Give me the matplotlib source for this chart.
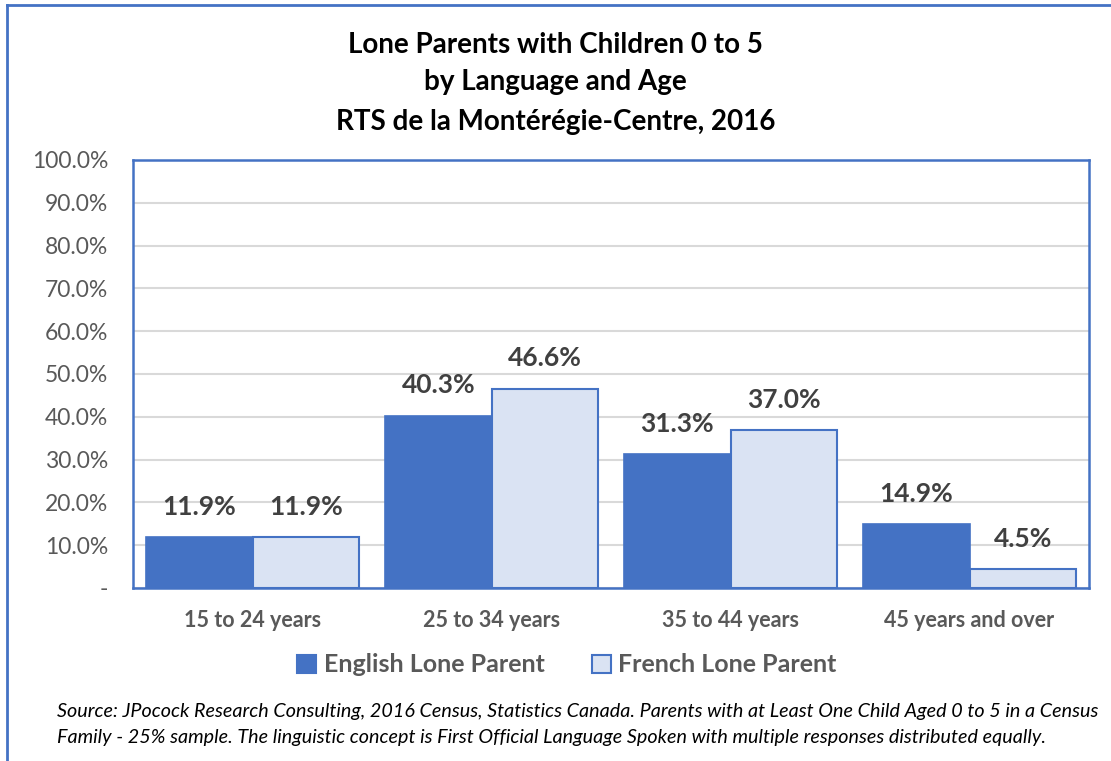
import matplotlib
matplotlib.use("Agg")
import matplotlib.pyplot as plt
from matplotlib.lines import Line2D
from matplotlib.patches import Patch
import numpy as np

categories = ["15 to 24 years", "25 to 34 years", "35 to 44 years", "45 years and over"]
english = [11.9, 40.3, 31.3, 14.9]
french = [11.9, 46.6, 37.0, 4.5]
series_names = ["English Lone Parent", "French Lone Parent"]
yticks = [0, 10, 20, 30, 40, 50, 60, 70, 80, 90, 100]
ytick_labels = ["-"] + [f"{v:.1f}%" for v in yticks[1:]]

BLUE = "#4472C4"
LIGHT = "#DAE3F3"
GRAY = "#595959"
DARK = "#404040"

plt.rcParams['font.family'] = ['Lato', 'DejaVu Sans']

W, H = 1111, 761
fig = plt.figure(figsize=(W / 100, H / 100), dpi=100)
ax = fig.add_axes([133 / W, 1 - 588 / H, (1089 - 133) / W, (588 - 160) / H])

x = np.arange(len(categories))
bw = 0.445
b1 = ax.bar(x - bw / 2, english, bw, color=BLUE, edgecolor=BLUE, linewidth=1.2, zorder=3)
b2 = ax.bar(x + bw / 2, french, bw, color=LIGHT, edgecolor=BLUE, linewidth=1.5, zorder=3)

for bars, vals in ((b1, english), (b2, french)):
    for r, v in zip(bars, vals):
        ax.annotate(f"{v:.1f}%", (r.get_x() + r.get_width() / 2, v),
                    xytext=(0, 13), textcoords="offset points",
                    ha="center", va="bottom", fontsize=19, fontweight="bold",
                    color=DARK, zorder=5)

ax.set_xlim(-0.5, len(categories) - 0.5)
ax.set_ylim(0, 100)
ax.set_yticks(yticks)
ax.set_yticklabels(ytick_labels, fontsize=16.5, color=GRAY)
ax.set_xticks(x)
ax.set_xticklabels(categories, fontsize=15.5, fontweight="bold", color=GRAY)
ax.tick_params(axis="both", length=0)
ax.tick_params(axis="y", pad=18)
ax.tick_params(axis="x", pad=16)
ax.yaxis.grid(True, color="#D9D9D9", linewidth=1.5, zorder=0)
ax.set_axisbelow(True)
for s in ax.spines.values():
    s.set_color(BLUE)
    s.set_linewidth(1.8)

fig.text(0.5, 1 - 45 / H, "Lone Parents with Children 0 to 5", ha="center", va="center",
         fontsize=20, fontweight="bold", color="black")
fig.text(0.5, 1 - 82 / H, "by Language and Age", ha="center", va="center",
         fontsize=20, fontweight="bold", color="black")
fig.text(0.5, 1 - 122 / H, "RTS de la Montérégie-Centre, 2016", ha="center", va="center",
         fontsize=20, fontweight="bold", color="black")

handles = [Patch(facecolor=BLUE, edgecolor=BLUE, linewidth=1.5),
           Patch(facecolor=LIGHT, edgecolor=BLUE, linewidth=1.5)]
leg = fig.legend(handles, series_names, loc="center", bbox_to_anchor=(567 / W, 1 - 665 / H),
                 ncol=2, frameon=False, prop={"size": 18, "weight": "bold"},
                 handlelength=0.75, handleheight=0.75, handletextpad=0.3, columnspacing=1.9)
for t in leg.get_texts():
    t.set_color(GRAY)

fig.text(57 / W, 1 - 712 / H,
         "Source: JPocock Research Consulting, 2016 Census, Statistics Canada. Parents with at Least One Child Aged 0 to 5 in a Census",
         ha="left", va="center", fontsize=14.25, style="italic", color="black")
fig.text(57 / W, 1 - 738 / H,
         "Family - 25% sample. The linguistic concept is First Official Language Spoken with multiple responses distributed equally.",
         ha="left", va="center", fontsize=14.25, style="italic", color="black")

fig.add_artist(Line2D([7 / W, 7 / W], [0, 1 - 5 / H], color=BLUE, linewidth=2, transform=fig.transFigure))
fig.add_artist(Line2D([7 / W, 1], [1 - 5 / H, 1 - 5 / H], color=BLUE, linewidth=2, transform=fig.transFigure))

fig.savefig("out.png", dpi=100, facecolor="white")
